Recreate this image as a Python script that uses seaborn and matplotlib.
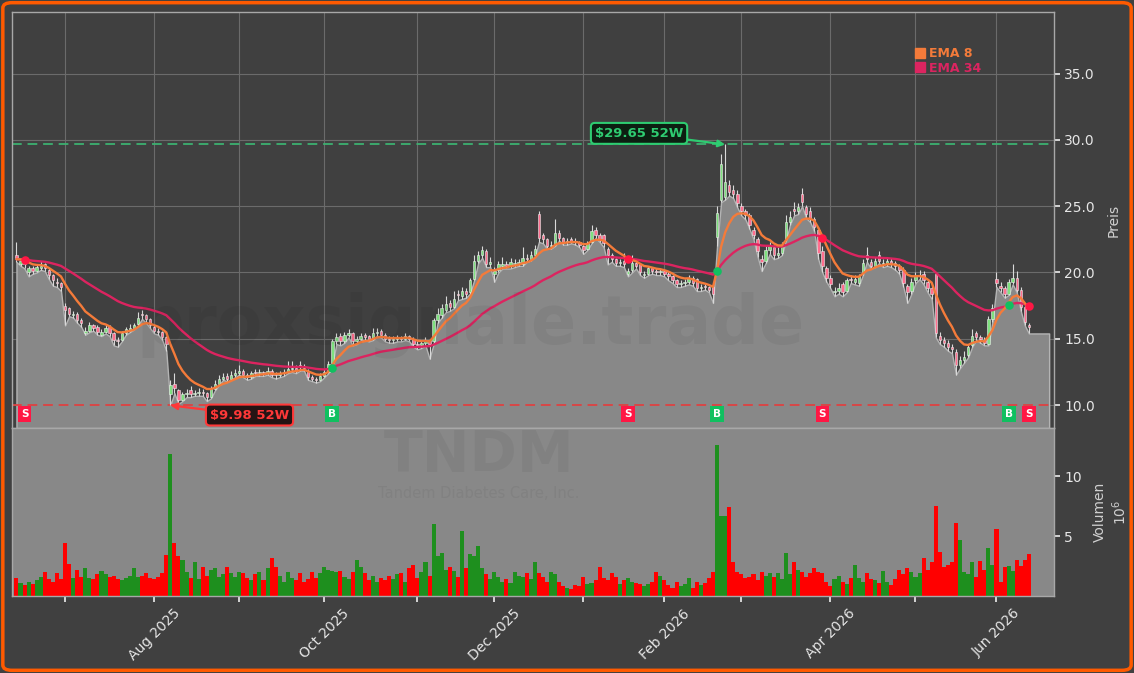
import numpy as np
import pandas as pd
import matplotlib
matplotlib.use("Agg")
import matplotlib.pyplot as plt
import matplotlib.transforms as mtransforms
from matplotlib.patches import FancyBboxPatch
from matplotlib.lines import Line2D
import seaborn as sns

# ---------------- data ----------------
ticker = "TNDM"
company = "Tandem Diabetes Care, Inc."
start_date, end_date = "2025-06-12", "2026-06-11"
holidays = ["2025-06-19", "2025-07-04", "2025-09-01", "2025-11-27", "2025-12-25",
            "2026-01-01", "2026-01-19", "2026-02-16", "2026-04-03", "2026-05-25"]

opens = [
    21.3, 20.6, 20.9, 20.0, 20.3, 20.1, 20.3, 20.6, 20.2, 19.8,
    19.3, 19.2, 17.5, 17.3, 16.8, 16.9, 16.4, 15.4, 15.6, 16.0,
    15.9, 15.3, 15.5, 15.9, 15.4, 14.9, 14.9, 15.4, 15.6, 15.8,
    16.1, 16.9, 16.8, 16.5, 15.9, 15.6, 15.5, 15.1, 10.8, 11.6,
    11.1, 10.4, 10.8, 11.1, 10.8, 10.9, 11.0, 10.9, 10.6, 11.2,
    11.6, 12.0, 12.2, 12.0, 12.3, 12.4, 12.6, 12.3, 12.1, 12.5,
    12.4, 12.5, 12.4, 12.6, 12.4, 12.3, 12.4, 12.5, 12.7, 12.8,
    13.0, 12.9, 12.6, 12.1, 12.0, 11.9, 12.2, 12.5, 13.2, 14.8,
    15.2, 14.8, 15.3, 15.4, 14.8, 15.0, 15.3, 15.2, 15.0, 15.4,
    15.6, 15.3, 15.0, 14.9, 15.0, 15.1, 15.0, 15.2, 15.0, 14.6,
    14.5, 14.7, 14.9, 14.8, 16.4, 16.8, 17.2, 17.7, 17.4, 18.4,
    18.2, 18.6, 18.5, 19.5, 20.9, 21.3, 21.6, 20.6, 19.9, 20.2,
    20.5, 20.6, 20.5, 20.6, 20.7, 20.6, 21.1, 21.0, 21.3, 24.4,
    22.8, 22.5, 22.0, 22.1, 23.0, 22.6, 22.3, 22.5, 22.4, 22.3,
    22.0, 21.8, 22.3, 23.2, 22.8, 22.8, 21.8, 21.3, 21.0, 20.7,
    20.9, 19.9, 20.2, 20.7, 20.6, 19.8, 19.9, 20.3, 20.1, 20.0,
    20.1, 19.9, 19.7, 19.4, 19.1, 19.2, 19.3, 19.6, 19.5, 18.8,
    19.0, 18.9, 18.9, 22.7, 25.5, 25.7, 26.6, 26.2, 25.9, 25.0,
    24.6, 24.3, 23.2, 22.5, 21.0, 20.9, 21.7, 21.9, 21.3, 21.5,
    22.5, 23.8, 24.8, 24.6, 25.9, 24.9, 24.6, 24.0, 23.2, 21.6,
    20.3, 19.6, 18.5, 18.6, 19.1, 18.6, 19.5, 19.3, 19.2, 20.0,
    21.3, 20.8, 20.5, 21.3, 20.6, 20.7, 20.9, 20.7, 20.5, 20.2,
    19.0, 18.6, 19.4, 19.7, 19.9, 19.3, 18.8, 19.9, 15.2, 14.9,
    14.7, 14.4, 14.0, 13.0, 13.4, 13.8, 14.5, 15.4, 15.1, 14.9,
    14.6, 16.5, 19.5, 19.0, 18.8, 18.4, 19.3, 19.6, 18.7, 17.4,
    16.0]

highs = [
    22.3, 21.1, 21.0, 20.5, 20.5, 20.6, 20.9, 20.7, 20.3, 19.9,
    19.6, 19.3, 17.7, 17.4, 17.1, 17.0, 16.6, 15.9, 16.3, 16.1,
    16.0, 15.7, 16.0, 16.0, 15.5, 15.1, 15.6, 15.9, 16.1, 16.2,
    17.0, 17.2, 16.9, 16.6, 16.0, 15.8, 15.6, 15.2, 11.9, 12.4,
    11.2, 11.0, 11.2, 11.4, 11.1, 11.3, 11.2, 11.0, 11.4, 11.9,
    12.3, 12.4, 12.4, 12.6, 12.7, 13.0, 12.7, 12.4, 12.6, 12.7,
    12.7, 12.6, 12.9, 12.7, 12.5, 12.6, 12.7, 13.3, 13.3, 13.0,
    13.3, 13.1, 12.7, 12.3, 12.1, 12.4, 12.7, 13.3, 15.0, 15.4,
    15.4, 15.5, 15.7, 15.5, 15.2, 15.4, 15.4, 15.3, 15.8, 15.8,
    15.7, 15.4, 15.2, 15.2, 15.3, 15.2, 15.4, 15.3, 15.1, 14.8,
    14.9, 15.1, 15.0, 16.6, 17.3, 17.6, 18.2, 17.9, 18.6, 18.7,
    18.9, 18.8, 19.6, 21.3, 21.6, 22.0, 21.8, 21.2, 20.4, 20.9,
    21.2, 20.9, 21.1, 21.0, 21.0, 21.9, 21.4, 21.6, 22.1, 24.6,
    23.0, 22.6, 22.4, 24.0, 23.2, 22.7, 22.6, 22.7, 22.6, 22.4,
    22.1, 22.4, 23.6, 23.4, 23.0, 22.9, 21.9, 21.5, 21.1, 21.0,
    21.5, 20.3, 21.3, 20.9, 20.7, 20.1, 20.5, 20.4, 20.3, 20.3,
    20.2, 20.0, 19.8, 19.5, 19.4, 19.5, 19.8, 19.7, 19.6, 19.1,
    19.2, 19.0, 19.0, 25.0, 28.9, 29.65, 27.0, 26.6, 26.2, 25.2,
    24.8, 24.5, 23.4, 22.7, 21.3, 22.1, 22.3, 22.1, 21.9, 22.3,
    24.3, 24.6, 25.3, 25.2, 26.4, 25.1, 24.9, 24.2, 23.4, 22.0,
    20.5, 19.8, 18.9, 19.2, 19.3, 19.6, 19.8, 19.8, 19.9, 21.0,
    21.9, 21.0, 21.2, 21.6, 21.0, 21.2, 21.1, 20.9, 20.6, 20.4,
    19.1, 19.6, 20.0, 20.2, 20.1, 19.5, 19.0, 20.0, 15.5, 15.1,
    14.9, 14.6, 14.2, 13.7, 14.1, 14.6, 15.7, 15.6, 15.3, 15.1,
    16.7, 17.6, 20.0, 19.3, 19.0, 19.5, 20.6, 20.1, 18.9, 17.6,
    16.2]

lows = [
    20.8, 20.5, 20.3, 19.7, 19.9, 20.0, 20.2, 20.1, 19.5, 19.0,
    18.9, 18.6, 16.0, 16.7, 16.6, 16.2, 15.9, 15.3, 15.5, 15.6,
    15.3, 15.2, 15.4, 15.2, 14.5, 14.4, 14.8, 15.3, 15.5, 15.7,
    16.0, 16.5, 16.2, 15.8, 15.4, 15.3, 14.9, 14.1, 9.98, 10.9,
    10.1, 10.3, 10.6, 10.6, 10.7, 10.7, 10.7, 10.3, 10.5, 11.1,
    11.5, 11.9, 11.8, 11.9, 12.1, 12.3, 12.1, 11.9, 12.0, 12.2,
    12.2, 12.2, 12.3, 12.1, 12.0, 12.1, 12.2, 12.4, 12.5, 12.4,
    12.6, 12.6, 11.9, 11.8, 11.7, 11.8, 12.1, 12.4, 13.1, 14.6,
    14.5, 14.7, 15.1, 14.5, 14.6, 14.9, 14.9, 14.8, 14.9, 15.2,
    15.1, 14.8, 14.7, 14.7, 14.8, 14.8, 14.9, 14.8, 14.4, 14.2,
    14.3, 14.5, 13.5, 14.6, 16.2, 16.6, 17.0, 17.1, 17.3, 17.9,
    18.0, 18.1, 18.4, 19.4, 20.7, 21.1, 20.4, 20.4, 19.3, 20.0,
    20.3, 20.3, 20.3, 20.4, 20.5, 20.5, 20.8, 20.9, 21.2, 22.3,
    22.2, 21.8, 21.8, 22.0, 22.4, 22.1, 22.1, 22.2, 22.1, 21.9,
    21.4, 21.7, 22.2, 22.6, 22.3, 21.9, 20.6, 20.8, 20.5, 20.5,
    20.4, 19.7, 20.0, 20.3, 19.8, 19.6, 19.8, 19.9, 19.8, 19.8,
    19.7, 19.4, 19.2, 18.9, 18.9, 19.0, 19.1, 19.0, 18.6, 18.6,
    18.7, 18.5, 17.7, 22.0, 25.3, 25.5, 25.8, 25.6, 24.9, 24.3,
    24.0, 23.3, 22.5, 21.2, 20.1, 20.7, 21.4, 21.0, 21.1, 21.3,
    22.4, 23.6, 24.3, 24.4, 25.0, 24.1, 23.8, 23.1, 21.0, 20.0,
    19.3, 18.8, 18.2, 18.4, 18.2, 18.5, 19.2, 19.1, 19.0, 19.8,
    20.8, 20.3, 20.4, 20.7, 20.4, 20.5, 20.4, 20.2, 19.9, 18.9,
    17.7, 18.4, 19.2, 19.5, 19.1, 18.5, 18.0, 15.1, 14.6, 14.4,
    14.1, 13.9, 12.3, 12.8, 13.2, 13.6, 14.4, 14.9, 14.7, 14.5,
    14.5, 16.3, 18.9, 18.5, 18.1, 18.3, 19.1, 18.5, 17.1, 16.0,
    15.4]

closes = [
    21.0, 20.9, 20.6, 20.3, 20.1, 20.4, 20.5, 20.3, 19.8, 19.4,
    19.2, 18.9, 17.2, 16.9, 16.9, 16.4, 16.2, 15.6, 16.0, 15.8,
    15.5, 15.5, 15.8, 15.4, 14.9, 14.8, 15.4, 15.7, 15.8, 16.0,
    16.6, 16.8, 16.5, 16.0, 15.6, 15.5, 15.1, 14.6, 11.5, 11.3,
    10.4, 10.8, 10.9, 10.8, 10.9, 11.0, 10.9, 10.6, 11.2, 11.6,
    12.0, 12.1, 12.0, 12.3, 12.4, 12.6, 12.3, 12.1, 12.4, 12.4,
    12.5, 12.4, 12.6, 12.3, 12.3, 12.4, 12.5, 12.7, 12.8, 12.6,
    12.9, 12.8, 12.1, 12.0, 11.9, 12.2, 12.5, 13.1, 14.8, 15.1,
    14.8, 15.3, 15.4, 14.8, 15.0, 15.2, 15.1, 15.0, 15.4, 15.5,
    15.3, 15.0, 14.9, 15.0, 15.1, 15.0, 15.2, 15.0, 14.6, 14.5,
    14.7, 14.9, 14.6, 16.4, 16.9, 17.3, 17.6, 17.4, 18.0, 18.3,
    18.6, 18.4, 19.4, 20.9, 21.3, 21.7, 20.6, 20.8, 20.1, 20.6,
    20.6, 20.5, 20.8, 20.7, 20.8, 21.1, 21.0, 21.3, 21.8, 22.6,
    22.5, 22.0, 22.1, 23.0, 22.6, 22.3, 22.4, 22.4, 22.3, 22.1,
    21.7, 22.2, 23.1, 22.8, 22.5, 22.2, 21.3, 21.0, 20.7, 20.8,
    20.6, 20.1, 20.7, 20.5, 20.0, 19.9, 20.3, 20.1, 20.0, 20.1,
    19.9, 19.7, 19.4, 19.1, 19.2, 19.3, 19.6, 19.2, 18.8, 18.9,
    18.9, 18.7, 18.4, 24.5, 28.2, 26.8, 26.1, 25.9, 25.2, 24.6,
    24.3, 23.6, 22.8, 21.6, 20.8, 21.7, 22.0, 21.3, 21.5, 22.0,
    23.8, 24.2, 24.6, 24.9, 25.3, 24.4, 24.0, 23.4, 21.5, 20.5,
    19.6, 19.1, 18.6, 18.8, 18.5, 19.4, 19.4, 19.5, 19.7, 20.7,
    21.0, 20.5, 20.9, 20.9, 20.7, 20.9, 20.6, 20.5, 20.2, 19.2,
    18.5, 19.3, 19.7, 19.8, 19.4, 18.8, 18.4, 15.4, 14.9, 14.7,
    14.4, 14.2, 13.0, 13.4, 13.6, 14.4, 15.2, 15.1, 15.0, 14.7,
    16.5, 17.3, 19.2, 18.8, 18.4, 19.3, 19.6, 18.7, 17.4, 16.3,
    15.9]

volumes_m = [
    1.5, 1.1, 0.9, 1.2, 1.0, 1.3, 1.6, 2.0, 1.4, 1.2,
    1.9, 1.4, 4.4, 2.7, 1.5, 2.2, 1.6, 2.3, 1.5, 1.4,
    1.8, 2.1, 1.8, 1.6, 1.7, 1.4, 1.3, 1.5, 1.7, 2.3,
    1.6, 1.7, 1.9, 1.5, 1.4, 1.6, 1.9, 3.4, 11.8, 4.4,
    3.3, 3.0, 2.0, 1.5, 2.8, 1.4, 2.4, 1.7, 2.2, 2.3,
    1.6, 1.8, 2.4, 1.9, 1.6, 2.0, 1.9, 1.5, 1.3, 1.8,
    2.0, 1.3, 2.3, 3.2, 2.4, 1.7, 1.2, 2.0, 1.5, 1.3,
    1.9, 1.2, 1.4, 2.0, 1.5, 1.9, 2.4, 2.2, 2.1, 2.0,
    2.1, 1.6, 1.4, 2.0, 3.0, 2.4, 1.9, 1.3, 1.7, 1.2,
    1.5, 1.3, 1.7, 1.4, 1.8, 1.9, 1.2, 2.3, 2.6, 1.5,
    2.0, 2.8, 1.7, 6.0, 3.3, 3.6, 2.2, 2.4, 2.1, 1.6,
    5.4, 2.3, 3.5, 3.3, 4.2, 2.3, 1.8, 1.4, 2.0, 1.6,
    1.2, 1.4, 1.1, 2.0, 1.7, 1.6, 1.9, 1.4, 2.8, 1.9,
    1.6, 1.2, 2.0, 1.8, 1.2, 0.8, 0.7, 0.6, 0.9, 0.8,
    1.6, 1.0, 1.1, 1.3, 2.4, 1.5, 1.3, 1.9, 1.6, 1.0,
    1.3, 1.5, 1.2, 1.1, 1.0, 0.8, 1.0, 1.2, 2.0, 1.7,
    1.3, 0.9, 0.7, 1.2, 0.8, 1.0, 1.5, 0.7, 1.2, 0.9,
    1.1, 1.5, 2.0, 12.6, 6.7, 6.7, 7.4, 2.8, 2.0, 1.8,
    1.5, 1.6, 1.8, 1.3, 2.0, 1.7, 1.9, 1.6, 1.9, 1.4,
    3.6, 1.8, 2.8, 2.2, 2.0, 1.6, 1.9, 2.3, 2.0, 1.9,
    1.2, 0.8, 1.4, 1.7, 1.2, 1.0, 1.5, 2.6, 1.5, 1.2,
    1.9, 1.4, 1.3, 1.1, 2.1, 1.2, 0.9, 1.4, 2.2, 1.8,
    2.3, 2.0, 1.6, 1.9, 3.2, 2.2, 2.8, 7.5, 3.7, 2.4,
    2.6, 2.8, 6.1, 4.7, 2.0, 1.8, 2.8, 1.6, 2.9, 2.2,
    4.0, 2.6, 5.6, 1.2, 2.4, 2.5, 2.1, 3.0, 2.5, 3.0,
    3.5]

buy_idx = [78, 173, 245]
sell_idx = [2, 151, 199, 250]
high_52w, high_52w_idx = 29.65, 175
low_52w, low_52w_idx = 9.98, 38

# ---------------- prep ----------------
dates = pd.bdate_range(start=start_date, end=end_date, freq="C", holidays=holidays)
n = min(len(dates), len(closes))
dates = dates[:n]
df = pd.DataFrame({"open": opens[:n], "high": highs[:n], "low": lows[:n],
                   "close": closes[:n], "vol": volumes_m[:n]})
df["idx"] = np.arange(n)
df["ema8"] = df["close"].ewm(span=8, adjust=False).mean()
df["ema34"] = df["close"].ewm(span=34, adjust=False).mean()
up = df["close"] >= df["open"]

BG = "#404040"
FILL = "#888888"
C_EMA8 = "#f47b3a"
C_EMA34 = "#dc2460"
C_UP = "#7fe07f"
C_DN = "#ff6f8f"
C_VUP = "#1e8f1e"
C_VDN = "#ff0000"
C_GREEN = "#2ecc71"
C_RED = "#ff3838"
TXT = "#e6e6e6"

sns.set_theme(style="dark", rc={"axes.facecolor": BG, "figure.facecolor": BG,
                                "axes.edgecolor": "#a8a8a8", "text.color": TXT,
                                "xtick.color": TXT, "ytick.color": TXT,
                                "axes.labelcolor": "#d0d0d0"})
plt.rcParams["font.family"] = ["DejaVu Sans"]

W, H = 1134, 673
fig = plt.figure(figsize=(W / 100, H / 100), dpi=100)
fig.patch.set_facecolor(BG)
L, R = 12, 1054
ax = fig.add_axes([L / W, 1 - 428 / H, (R - L) / W, (428 - 12) / H])
axv = fig.add_axes([L / W, 1 - 596 / H, (R - L) / W, (596 - 428) / H], sharex=ax)

pmin, pmax = 8.27, 39.64
ax.set_ylim(pmin, pmax)
ax.set_xlim(-1.1, n - 1 + 6.2)
ax.set_axisbelow(True)

# grey area under price (extended flat to the right edge)
ext_x = np.append(df["idx"].values, n - 1 + 5)
ext_low = np.append(df["low"].values, df["low"].values[-1])
ax.fill_between(ext_x, ext_low, pmin, color=FILL, edgecolor="#b4b4b4", lw=1.0,
                zorder=1)

# candles
ax.vlines(df["idx"], df["low"], df["high"], color="#d9d9d9", lw=0.8, zorder=3)
body_lo = np.minimum(df["open"], df["close"])
body_h = np.maximum(np.abs(df["close"] - df["open"]), 0.06)
ax.bar(df["idx"], body_h, bottom=body_lo, width=0.6,
       color=np.where(up, C_UP, C_DN), edgecolor="#eeeeee", linewidth=0.4, zorder=4)

# EMA lines
sns.lineplot(data=df, x="idx", y="ema34", ax=ax, color=C_EMA34, lw=1.7, zorder=5,
             legend=False)
sns.lineplot(data=df, x="idx", y="ema8", ax=ax, color=C_EMA8, lw=1.7, zorder=6,
             legend=False)

# 52W lines
ax.axhline(high_52w, color="#3cb371", ls=(0, (5, 3)), lw=1.4, alpha=0.9, zorder=2.5)
ax.axhline(low_52w, color="#e04040", ls=(0, (5, 3)), lw=1.4, alpha=0.9, zorder=2.5)

ax.annotate(r"\$29.65 52W", xy=(high_52w_idx, high_52w), xytext=(-62, 8),
            textcoords="offset points", ha="center", va="center", fontsize=9.5,
            fontweight="bold", color=C_GREEN, zorder=10,
            bbox=dict(boxstyle="round,pad=0.3", fc="#0d1f12", ec=C_GREEN, lw=1.5),
            arrowprops=dict(arrowstyle="-|>", color=C_GREEN, lw=1.6,
                            shrinkA=0, shrinkB=0, mutation_scale=10))
ax.annotate(r"\$9.98 52W", xy=(low_52w_idx, low_52w), xytext=(57, -7),
            textcoords="offset points", ha="center", va="center", fontsize=9.5,
            fontweight="bold", color=C_RED, zorder=10,
            bbox=dict(boxstyle="round,pad=0.3", fc="#241414", ec=C_RED, lw=1.5),
            arrowprops=dict(arrowstyle="-|>", color=C_RED, lw=1.6,
                            shrinkA=0, shrinkB=0, mutation_scale=10))

# signals
trans = mtransforms.blended_transform_factory(ax.transData, ax.transAxes)
for i in buy_idx:
    ax.scatter(i, df["ema34"].iloc[i], s=38, color="#10c060", zorder=8, linewidths=0)
    ax.text(i, 0.034, "B", transform=trans, ha="center", va="center", fontsize=7.5,
            fontweight="bold", color="white", zorder=9,
            bbox=dict(boxstyle="square,pad=0.28", fc="#10c060", ec="none"))
for i in sell_idx:
    ax.scatter(i, df["ema34"].iloc[i], s=38, color="#ff1744", zorder=8, linewidths=0)
    ax.text(i, 0.034, "S", transform=trans, ha="center", va="center", fontsize=7.5,
            fontweight="bold", color="white", zorder=9,
            bbox=dict(boxstyle="square,pad=0.28", fc="#ff1744", ec="none"))

# legend
handles = [Line2D([], [], marker="s", ls="none", color=C_EMA8, markersize=7),
           Line2D([], [], marker="s", ls="none", color=C_EMA34, markersize=7)]
leg = ax.legend(handles, ["EMA 8", "EMA 34"], loc="upper left",
                bbox_to_anchor=(0.868, 0.916), frameon=False, handlelength=0.6,
                handletextpad=0.4, labelspacing=0.15, borderpad=0, borderaxespad=0,
                prop={"weight": "bold", "size": 9}, labelcolor=[C_EMA8, C_EMA34])

# price axis styling
ax.yaxis.tick_right()
ax.yaxis.set_label_position("right")
ax.set_yticks([10, 15, 20, 25, 30, 35])
ax.set_yticklabels([f"{v:.1f}" for v in [10, 15, 20, 25, 30, 35]])
ax.set_ylabel("Preis", fontsize=10, labelpad=8)
ax.set_xlabel("")
ax.grid(True, color="#6b6b6b", lw=0.8)
ax.tick_params(axis="y", colors=TXT, labelsize=10, length=4, left=False, right=True)
ax.tick_params(axis="x", labelbottom=False, bottom=False)
for s in ax.spines.values():
    s.set_color("#a8a8a8")
    s.set_linewidth(1.0)

# volume
axv.set_facecolor(FILL)
axv.bar(df["idx"], df["vol"], width=1.0, color=np.where(up, C_VUP, C_VDN),
        linewidth=0, zorder=2)
axv.set_ylim(0, 14)
axv.yaxis.tick_right()
axv.yaxis.set_label_position("right")
axv.set_yticks([5, 10])
axv.set_yticklabels(["5", "10"])
axv.set_ylabel("Volumen\n$10^6$", fontsize=10, labelpad=8)
axv.grid(False)
axv.tick_params(axis="y", colors=TXT, labelsize=10, length=4, left=False, right=True)
for s in axv.spines.values():
    s.set_color("#a8a8a8")
    s.set_linewidth(1.0)

month_pos = [i for i in range(1, n) if dates[i].month != dates[i - 1].month]
month_lab = [dates[i].strftime("%b %Y") if dates[i].month % 2 == 0 else ""
             for i in month_pos]
axv.set_xticks(month_pos)
axv.set_xticklabels(month_lab, rotation=45, ha="center", fontsize=10)
axv.tick_params(axis="x", colors=TXT, length=4, bottom=True)
ax.set_xticks(month_pos)

# watermarks
fig.text(471 / W, 1 - 325 / H, "proxsignale.trade", ha="center", va="center",
         fontsize=48, fontweight="bold", color="black", alpha=0.05, zorder=20)
fig.text(479 / W, 1 - 457 / H, ticker, ha="center", va="center", fontsize=41,
         fontweight="bold", color="black", alpha=0.05, zorder=20)
fig.text(479 / W, 1 - 493 / H, company, ha="center", va="center", fontsize=10.5,
         color="black", alpha=0.05, zorder=20)

# orange frame
fig.patches.append(FancyBboxPatch((0.0025, 0.004), 0.995, 0.992,
                                  boxstyle="round,pad=0,rounding_size=0.008",
                                  transform=fig.transFigure, fc="none",
                                  ec="#ff5a00", lw=2.5, zorder=30))

fig.savefig("out.png", dpi=100, facecolor=BG)
